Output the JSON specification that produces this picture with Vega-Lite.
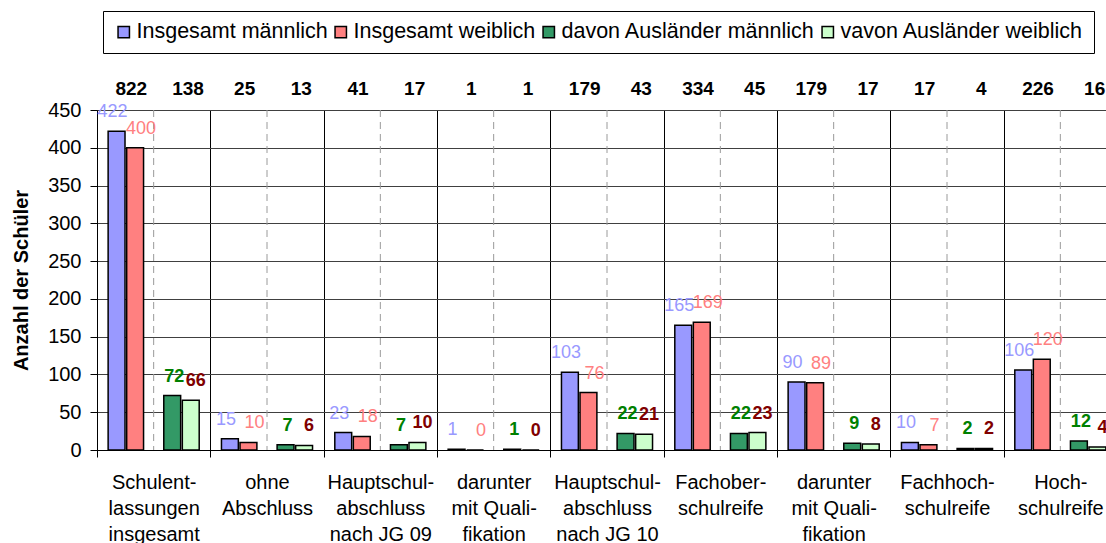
{
  "$schema": "https://vega.github.io/schema/vega-lite/v6.json",
  "width": 1009,
  "height": 340,
  "autosize": {"type": "none"},
  "padding": {"left": 97, "top": 110, "right": 0, "bottom": 93},
  "background": "white",
  "config": {
    "font": "Liberation Sans",
    "view": {"stroke": null},
    "axis": {"labelFont": "Liberation Sans", "titleFont": "Liberation Sans"},
    "axisY": {"tickCount": 10, "grid": true, "gridColor": "#404040", "gridWidth": 1, "domainColor": "#000000", "tickColor": "#000000", "tickSize": 7, "labelFontSize": 20, "labelColor": "#000000", "labelPadding": 9, "titleFontSize": 20, "titleFontWeight": "bold", "titleColor": "#000000", "titlePadding": 16},
    "legend": {"labelFont": "Liberation Sans"}
  },
  "datasets": {
    "bars": [
      {"cat": "Schulent-|lassungen|insgesamt", "series": "Insgesamt männlich", "value": 422},
      {"cat": "Schulent-|lassungen|insgesamt", "series": "Insgesamt weiblich", "value": 400},
      {"cat": "Schulent-|lassungen|insgesamt", "series": "davon Ausländer männlich", "value": 72},
      {"cat": "Schulent-|lassungen|insgesamt", "series": "vavon Ausländer weiblich", "value": 66},
      {"cat": "ohne|Abschluss", "series": "Insgesamt männlich", "value": 15},
      {"cat": "ohne|Abschluss", "series": "Insgesamt weiblich", "value": 10},
      {"cat": "ohne|Abschluss", "series": "davon Ausländer männlich", "value": 7},
      {"cat": "ohne|Abschluss", "series": "vavon Ausländer weiblich", "value": 6},
      {"cat": "Hauptschul-|abschluss|nach JG 09", "series": "Insgesamt männlich", "value": 23},
      {"cat": "Hauptschul-|abschluss|nach JG 09", "series": "Insgesamt weiblich", "value": 18},
      {"cat": "Hauptschul-|abschluss|nach JG 09", "series": "davon Ausländer männlich", "value": 7},
      {"cat": "Hauptschul-|abschluss|nach JG 09", "series": "vavon Ausländer weiblich", "value": 10},
      {"cat": "darunter|mit Quali-|fikation", "series": "Insgesamt männlich", "value": 1},
      {"cat": "darunter|mit Quali-|fikation", "series": "Insgesamt weiblich", "value": 0},
      {"cat": "darunter|mit Quali-|fikation", "series": "davon Ausländer männlich", "value": 1},
      {"cat": "darunter|mit Quali-|fikation", "series": "vavon Ausländer weiblich", "value": 0},
      {"cat": "Hauptschul-|abschluss|nach JG 10", "series": "Insgesamt männlich", "value": 103},
      {"cat": "Hauptschul-|abschluss|nach JG 10", "series": "Insgesamt weiblich", "value": 76},
      {"cat": "Hauptschul-|abschluss|nach JG 10", "series": "davon Ausländer männlich", "value": 22},
      {"cat": "Hauptschul-|abschluss|nach JG 10", "series": "vavon Ausländer weiblich", "value": 21},
      {"cat": "Fachober-|schulreife", "series": "Insgesamt männlich", "value": 165},
      {"cat": "Fachober-|schulreife", "series": "Insgesamt weiblich", "value": 169},
      {"cat": "Fachober-|schulreife", "series": "davon Ausländer männlich", "value": 22},
      {"cat": "Fachober-|schulreife", "series": "vavon Ausländer weiblich", "value": 23},
      {"cat": "darunter|mit Quali-|fikation|", "series": "Insgesamt männlich", "value": 90},
      {"cat": "darunter|mit Quali-|fikation|", "series": "Insgesamt weiblich", "value": 89},
      {"cat": "darunter|mit Quali-|fikation|", "series": "davon Ausländer männlich", "value": 9},
      {"cat": "darunter|mit Quali-|fikation|", "series": "vavon Ausländer weiblich", "value": 8},
      {"cat": "Fachhoch-|schulreife", "series": "Insgesamt männlich", "value": 10},
      {"cat": "Fachhoch-|schulreife", "series": "Insgesamt weiblich", "value": 7},
      {"cat": "Fachhoch-|schulreife", "series": "davon Ausländer männlich", "value": 2},
      {"cat": "Fachhoch-|schulreife", "series": "vavon Ausländer weiblich", "value": 2},
      {"cat": "Hoch-|schulreife", "series": "Insgesamt männlich", "value": 106},
      {"cat": "Hoch-|schulreife", "series": "Insgesamt weiblich", "value": 120},
      {"cat": "Hoch-|schulreife", "series": "davon Ausländer männlich", "value": 12},
      {"cat": "Hoch-|schulreife", "series": "vavon Ausländer weiblich", "value": 4}
    ],
    "totals": [
      {"cat": "Schulent-|lassungen|insgesamt", "group": "Insgesamt", "total": 822},
      {"cat": "Schulent-|lassungen|insgesamt", "group": "Ausländer", "total": 138},
      {"cat": "ohne|Abschluss", "group": "Insgesamt", "total": 25},
      {"cat": "ohne|Abschluss", "group": "Ausländer", "total": 13},
      {"cat": "Hauptschul-|abschluss|nach JG 09", "group": "Insgesamt", "total": 41},
      {"cat": "Hauptschul-|abschluss|nach JG 09", "group": "Ausländer", "total": 17},
      {"cat": "darunter|mit Quali-|fikation", "group": "Insgesamt", "total": 1},
      {"cat": "darunter|mit Quali-|fikation", "group": "Ausländer", "total": 1},
      {"cat": "Hauptschul-|abschluss|nach JG 10", "group": "Insgesamt", "total": 179},
      {"cat": "Hauptschul-|abschluss|nach JG 10", "group": "Ausländer", "total": 43},
      {"cat": "Fachober-|schulreife", "group": "Insgesamt", "total": 334},
      {"cat": "Fachober-|schulreife", "group": "Ausländer", "total": 45},
      {"cat": "darunter|mit Quali-|fikation|", "group": "Insgesamt", "total": 179},
      {"cat": "darunter|mit Quali-|fikation|", "group": "Ausländer", "total": 17},
      {"cat": "Fachhoch-|schulreife", "group": "Insgesamt", "total": 17},
      {"cat": "Fachhoch-|schulreife", "group": "Ausländer", "total": 4},
      {"cat": "Hoch-|schulreife", "group": "Insgesamt", "total": 226},
      {"cat": "Hoch-|schulreife", "group": "Ausländer", "total": 16}
    ]
  },
  "layer": [
    {
      "data": {"name": "totals"},
      "transform": [{"filter": "datum.group === 'Insgesamt'"}],
      "mark": {"type": "rule", "color": "#9a9a9a", "strokeDash": [7, 5], "strokeWidth": 1},
      "encoding": {
        "x": {"field": "cat", "type": "nominal", "title": null, "bandPosition": 0.5,
              "scale": {"domain": ["Schulent-|lassungen|insgesamt", "ohne|Abschluss", "Hauptschul-|abschluss|nach JG 09", "darunter|mit Quali-|fikation", "Hauptschul-|abschluss|nach JG 10", "Fachober-|schulreife", "darunter|mit Quali-|fikation|", "Fachhoch-|schulreife", "Hoch-|schulreife"], "paddingInner": 0, "paddingOuter": 0, "range": [0, 1020]},
              "axis": {"tickBand": "extent", "grid": true, "gridColor": "#000000", "gridWidth": 1, "domainColor": "#000000", "domainWidth": 1, "tickColor": "#000000", "tickSize": 7, "labelFontSize": 20, "labelColor": "#000000", "labelPadding": 15, "labelLineHeight": 26, "labelExpr": "split(datum.label, '|')", "labelAngle": 0, "labelAlign": "center", "labelOverlap": false, "labelBound": false, "labelLimit": 0}}
      }
    },
    {
      "data": {"name": "bars"},
      "mark": {"type": "bar", "stroke": "black", "strokeWidth": 1.5},
      "encoding": {
        "x": {"field": "cat", "type": "nominal", "title": null,
              "scale": {"domain": ["Schulent-|lassungen|insgesamt", "ohne|Abschluss", "Hauptschul-|abschluss|nach JG 09", "darunter|mit Quali-|fikation", "Hauptschul-|abschluss|nach JG 10", "Fachober-|schulreife", "darunter|mit Quali-|fikation|", "Fachhoch-|schulreife", "Hoch-|schulreife"], "paddingInner": 0, "paddingOuter": 0, "range": [0, 1020]},
              "axis": {"tickBand": "extent", "grid": true, "gridColor": "#000000", "gridWidth": 1, "domainColor": "#000000", "domainWidth": 1, "tickColor": "#000000", "tickSize": 7, "labelFontSize": 20, "labelColor": "#000000", "labelPadding": 15, "labelLineHeight": 26, "labelExpr": "split(datum.label, '|')", "labelAngle": 0, "labelAlign": "center", "labelOverlap": false, "labelBound": false, "labelLimit": 0}},
        "xOffset": {"field": "series", "type": "nominal",
                    "scale": {"domain": ["Insgesamt männlich", "Insgesamt weiblich", "gap", "davon Ausländer männlich", "vavon Ausländer weiblich"], "paddingInner": 0.09, "paddingOuter": 0.6}},
        "y": {"field": "value", "type": "quantitative", "title": "Anzahl der Schüler",
              "scale": {"domain": [0, 450], "nice": false},
              "axis": {"values": [0, 50, 100, 150, 200, 250, 300, 350, 400, 450]}},
        "color": {"field": "series", "type": "nominal",
                  "scale": {"domain": ["Insgesamt männlich", "Insgesamt weiblich", "davon Ausländer männlich", "vavon Ausländer weiblich"], "range": ["#9999FF", "#FF8080", "#339966", "#CCFFCC"]},
                  "legend": {"orient": "none", "legendX": 6, "legendY": -99, "direction": "horizontal", "columns": 4, "title": null, "strokeColor": "#000000", "fillColor": "#ffffff", "padding": 10, "symbolType": "square", "symbolSize": 130, "symbolStrokeColor": "#000000", "symbolStrokeWidth": 1.5, "symbolOpacity": 1, "labelFontSize": 21.5, "labelColor": "#000000", "labelOffset": 2, "columnPadding": 2, "labelLimit": 0}}
      }
    },
    {
      "data": {"name": "bars"},
      "transform": [{"filter": "datum.series === 'Insgesamt männlich'"}],
      "mark": {"type": "text", "baseline": "alphabetic", "align": "center", "dy": -14, "dx": -4, "fontSize": 18, "color": "#9999FF"},
      "encoding": {
        "x": {"field": "cat", "type": "nominal", "title": null},
        "xOffset": {"field": "series", "type": "nominal"},
        "y": {"field": "value", "type": "quantitative", "title": "Anzahl der Schüler", "axis": {"values": [0, 50, 100, 150, 200, 250, 300, 350, 400, 450]}},
        "text": {"field": "value", "type": "quantitative"}
      }
    },
    {
      "data": {"name": "bars"},
      "transform": [{"filter": "datum.series === 'Insgesamt weiblich'"}],
      "mark": {"type": "text", "baseline": "alphabetic", "align": "center", "dy": -14, "dx": 6, "fontSize": 18, "color": "#FF8080"},
      "encoding": {
        "x": {"field": "cat", "type": "nominal", "title": null},
        "xOffset": {"field": "series", "type": "nominal"},
        "y": {"field": "value", "type": "quantitative", "title": "Anzahl der Schüler", "axis": {"values": [0, 50, 100, 150, 200, 250, 300, 350, 400, 450]}},
        "text": {"field": "value", "type": "quantitative"}
      }
    },
    {
      "data": {"name": "bars"},
      "transform": [{"filter": "datum.series === 'davon Ausländer männlich'"}],
      "mark": {"type": "text", "baseline": "alphabetic", "align": "center", "dy": -14, "dx": 2, "fontSize": 18, "fontWeight": "bold", "color": "#008000"},
      "encoding": {
        "x": {"field": "cat", "type": "nominal", "title": null},
        "xOffset": {"field": "series", "type": "nominal"},
        "y": {"field": "value", "type": "quantitative", "title": "Anzahl der Schüler", "axis": {"values": [0, 50, 100, 150, 200, 250, 300, 350, 400, 450]}},
        "text": {"field": "value", "type": "quantitative"}
      }
    },
    {
      "data": {"name": "bars"},
      "transform": [{"filter": "datum.series === 'vavon Ausländer weiblich'"}],
      "mark": {"type": "text", "baseline": "alphabetic", "align": "center", "dy": -14, "dx": 5, "fontSize": 18, "fontWeight": "bold", "color": "#800000"},
      "encoding": {
        "x": {"field": "cat", "type": "nominal", "title": null},
        "xOffset": {"field": "series", "type": "nominal"},
        "y": {"field": "value", "type": "quantitative", "title": "Anzahl der Schüler", "axis": {"values": [0, 50, 100, 150, 200, 250, 300, 350, 400, 450]}},
        "text": {"field": "value", "type": "quantitative"}
      }
    },
    {
      "data": {"name": "totals"},
      "transform": [{"filter": "datum.group === 'Insgesamt'"}],
      "mark": {"type": "text", "baseline": "middle", "align": "center", "dx": 6, "fontSize": 19, "fontWeight": "bold", "color": "#000000"},
      "encoding": {
        "x": {"field": "cat", "type": "nominal", "title": null, "bandPosition": 0.25},
        "y": {"datum": 478, "type": "quantitative", "title": "Anzahl der Schüler", "axis": {"values": [0, 50, 100, 150, 200, 250, 300, 350, 400, 450]}},
        "text": {"field": "total", "type": "quantitative"}
      }
    },
    {
      "data": {"name": "totals"},
      "transform": [{"filter": "datum.group === 'Ausländer'"}],
      "mark": {"type": "text", "baseline": "middle", "align": "center", "dx": 6, "fontSize": 19, "fontWeight": "bold", "color": "#000000"},
      "encoding": {
        "x": {"field": "cat", "type": "nominal", "title": null, "bandPosition": 0.75},
        "y": {"datum": 478, "type": "quantitative", "title": "Anzahl der Schüler", "axis": {"values": [0, 50, 100, 150, 200, 250, 300, 350, 400, 450]}},
        "text": {"field": "total", "type": "quantitative"}
      }
    }
  ]
}
